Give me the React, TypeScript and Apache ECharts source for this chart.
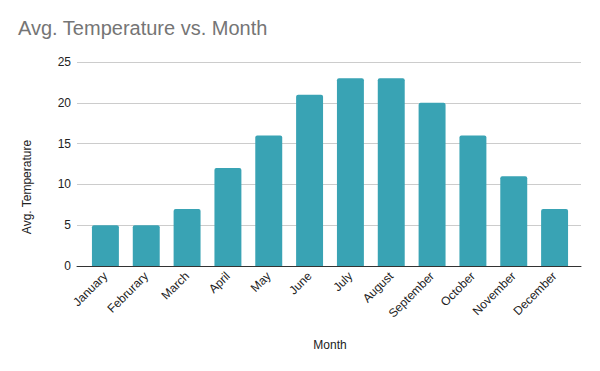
import React, { useEffect, useRef } from "react";
import * as echarts from "echarts";

const months = ["January", "Februrary", "March", "April", "May", "June", "July", "August", "September", "October", "November", "December"];
const avgTemps = [5, 5, 7, 12, 16, 21, 23, 23, 20, 16, 11, 7];
const yTicks = { min: 0, max: 25, interval: 5 };

const FONT = "'Liberation Sans', Arial, sans-serif";

export default function App() {
  const ref = useRef<HTMLDivElement>(null);
  useEffect(() => {
    if (!ref.current) return;
    const chart = echarts.init(ref.current, undefined, { renderer: "svg" });
    chart.setOption({
      animation: false,
      backgroundColor: "#ffffff",
      textStyle: { fontFamily: FONT },
      title: {
        text: "Avg. Temperature vs. Month",
        left: 18,
        top: 18,
        padding: 0,
        textStyle: { fontFamily: FONT, fontSize: 20, fontWeight: "normal", color: "#757575" },
      },
      grid: [
        { left: 77, right: 19, top: 62, bottom: 105 },
        { left: 85, right: 25, top: 62, bottom: 105 },
      ],
      xAxis: [
        {
          type: "value",
          gridIndex: 0,
          min: 0,
          max: 1,
          axisLine: { show: true, onZero: false, lineStyle: { color: "#333333", width: 1 } },
          axisTick: { show: false },
          axisLabel: { show: false },
          splitLine: { show: false },
        },
        {
          type: "category",
          gridIndex: 1,
          data: months,
          axisLine: { show: false },
          axisTick: { show: false },
          axisLabel: { rotate: 45, color: "#222222", fontSize: 12, fontFamily: FONT, margin: 8, interval: 0 },
          name: "Month",
          nameLocation: "middle",
          nameGap: 73,
          nameTextStyle: { color: "#222222", fontSize: 12, fontFamily: FONT },
        },
      ],
      yAxis: [
        {
          type: "value",
          gridIndex: 0,
          min: yTicks.min,
          max: yTicks.max,
          interval: yTicks.interval,
          axisLine: { show: false },
          axisTick: { show: false },
          axisLabel: { color: "#222222", fontSize: 12, fontFamily: FONT, margin: 6 },
          splitLine: { lineStyle: { color: "#cccccc", width: 1 } },
        },
        {
          type: "value",
          gridIndex: 1,
          min: yTicks.min,
          max: yTicks.max,
          interval: yTicks.interval,
          show: false,
          splitLine: { show: false },
        },
      ],
      graphic: [
        {
          type: "text",
          x: 27,
          y: 187,
          rotation: Math.PI / 2,
          style: {
            text: "Avg. Temperature",
            fill: "#222222",
            fontSize: 12,
            fontFamily: FONT,
            align: "center",
            verticalAlign: "middle",
          },
        },
      ],
      series: [
        {
          type: "bar",
          xAxisIndex: 1,
          yAxisIndex: 1,
          data: avgTemps,
          barWidth: "66%",
          itemStyle: { color: "#39a3b4", borderRadius: [2, 2, 0, 0] },
          z: 3,
        },
      ],
    });
    return () => chart.dispose();
  }, []);
  return <div ref={ref} style={{ width: 600, height: 371, position: "absolute", left: 0, top: 0 }} />;
}
